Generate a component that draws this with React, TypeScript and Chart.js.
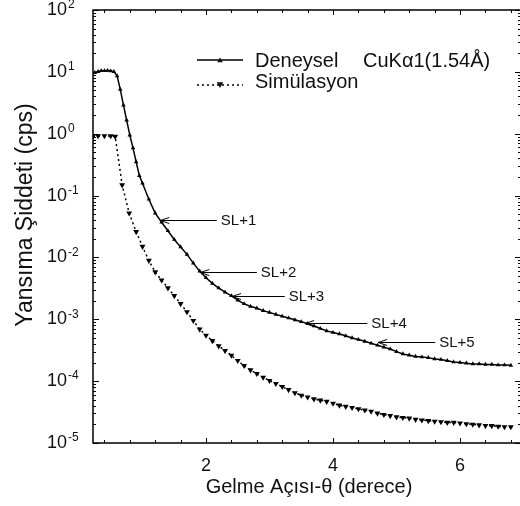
import React, { useEffect, useRef } from 'react';
import { Chart, registerables } from 'chart.js';

Chart.register(...registerables);

// ---- data ----
const thetaExp = [
  0.25, 0.3, 0.35, 0.4, 0.45, 0.5, 0.55, 0.6, 0.65, 0.7, 0.75, 0.8, 0.85, 0.9, 0.95, 1.0,
  1.1, 1.2, 1.3, 1.4, 1.5, 1.6, 1.7, 1.8, 1.9, 2.0, 2.1, 2.2, 2.3, 2.4, 2.5, 2.6, 2.7, 2.8, 2.9,
  3.0, 3.1, 3.2, 3.3, 3.4, 3.5, 3.6, 3.7, 3.8, 3.9, 4.0, 4.1, 4.2, 4.3, 4.4, 4.5, 4.6, 4.7, 4.8,
  4.9, 5.0, 5.1, 5.2, 5.3, 5.4, 5.5, 5.6, 5.7, 5.8, 5.9, 6.0, 6.1, 6.2, 6.3, 6.4, 6.5, 6.6, 6.7, 6.8,
];
const intensityExp = [
  9.7, 10.1, 10.4, 10.4, 10.5, 10.3, 10.1, 8.6, 5.2, 2.9, 1.66, 0.95, 0.59, 0.35, 0.21, 0.158,
  0.087, 0.052, 0.037, 0.027, 0.0195, 0.0148, 0.0112, 0.0081, 0.006, 0.0047, 0.0038, 0.0032, 0.00275,
  0.0024, 0.00204, 0.00178, 0.00162, 0.00151, 0.00138, 0.00129, 0.0012, 0.00112, 0.00105, 0.00098,
  0.00091, 0.00085, 0.00078, 0.00071, 0.00065, 0.00061, 0.00058, 0.00054, 0.0005, 0.00047, 0.00044,
  0.00041, 0.00038, 0.000355, 0.00033, 0.0003, 0.000275, 0.000263, 0.000251, 0.000245, 0.00024,
  0.000229, 0.000224, 0.000214, 0.000204, 0.0002, 0.000195, 0.00019, 0.00019, 0.000186, 0.000186,
  0.000182, 0.000182, 0.00018,
];
const thetaSim = [
  0.22, 0.3, 0.4, 0.5, 0.57, 0.68, 0.79, 0.9, 1.0, 1.1, 1.2, 1.3, 1.4, 1.5, 1.6, 1.7, 1.8, 1.9,
  2.0, 2.1, 2.2, 2.3, 2.4, 2.5, 2.6, 2.7, 2.8, 2.9, 3.0, 3.1, 3.2, 3.3, 3.4, 3.5, 3.6, 3.7, 3.8,
  3.9, 4.0, 4.1, 4.2, 4.3, 4.4, 4.5, 4.6, 4.7, 4.8, 4.9, 5.0, 5.1, 5.2, 5.3, 5.4, 5.5, 5.6, 5.7,
  5.8, 5.9, 6.0, 6.1, 6.2, 6.3, 6.4, 6.5, 6.6, 6.7, 6.8,
];
const intensitySim = [
  0.9, 0.92, 0.92, 0.92, 0.9, 0.148, 0.052, 0.026, 0.015, 0.0089, 0.0058, 0.0043, 0.0032, 0.0024,
  0.00178, 0.00132, 0.00095, 0.00069, 0.00055, 0.00045, 0.00037, 0.00031, 0.00026, 0.000214,
  0.000178, 0.000151, 0.000132, 0.000115, 0.000102, 0.0000912, 0.0000813, 0.0000724, 0.0000646,
  0.0000589, 0.000055, 0.0000513, 0.000049, 0.0000468, 0.0000437, 0.0000407, 0.0000389, 0.0000372,
  0.0000355, 0.0000339, 0.0000324, 0.0000302, 0.0000288, 0.0000275, 0.0000263, 0.0000257,
  0.0000251, 0.000024, 0.0000234, 0.0000229, 0.0000224, 0.0000219, 0.0000214, 0.0000214,
  0.0000209, 0.0000204, 0.00002, 0.0000195, 0.000019, 0.000019, 0.0000186, 0.0000182, 0.0000182,
];
const seriesLabels = ['Deneysel', 'Simülasyon'];
const legendNote = 'CuKα1(1.54Å)';
const decades = [-5, -4, -3, -2, -1, 0, 1, 2];
const xTickValues = [0.4, 0.8, 1.2, 1.6, 2, 2.4, 2.8, 3.2, 3.6, 4, 4.4, 4.8, 5.2, 5.6, 6, 6.4, 6.8];
const xLabelValues = [2, 4, 6];
const xTitle = 'Gelme Açısı-θ (derece)';
const yTitle = 'Yansıma Şiddeti (cps)';
const slLabels = ['SL+1', 'SL+2', 'SL+3', 'SL+4', 'SL+5'];
const slTheta = [1.28, 1.91, 2.41, 3.56, 4.71];
const slTailTheta = [2.17, 2.8, 3.24, 4.54, 5.61];
const slIntensity = [0.0403, 0.0058, 0.00238, 0.00087, 0.00043];

const FONT = '"Liberation Sans", Arial, sans-serif';
const INK = '#111';

const overlay = {
  id: 'overlay',
  afterDraw(chart: any) {
    const { ctx, chartArea: a, scales } = chart;
    const xs = scales.x;
    const ys = scales.y;
    ctx.save();
    ctx.strokeStyle = '#000';
    ctx.fillStyle = INK;

    // frame
    ctx.lineWidth = 1.5;
    ctx.strokeRect(a.left, a.top, a.right - a.left, a.bottom - a.top);

    ctx.lineWidth = 1;
    const hline = (x1: number, x2: number, y: number) => {
      ctx.beginPath();
      ctx.moveTo(x1, y);
      ctx.lineTo(x2, y);
      ctx.stroke();
    };
    const vline = (x: number, y1: number, y2: number) => {
      ctx.beginPath();
      ctx.moveTo(x, y1);
      ctx.lineTo(x, y2);
      ctx.stroke();
    };
    // y ticks (inward)
    decades.forEach((d) => {
      const py = Math.round(ys.getPixelForValue(Math.pow(10, d))) + 0.5;
      hline(a.left, a.left + 6, py);
      hline(a.right, a.right - 6, py);
      if (d < decades[decades.length - 1]) {
        for (let m = 2; m <= 9; m++) {
          const pm = Math.round(ys.getPixelForValue(m * Math.pow(10, d))) + 0.5;
          hline(a.left, a.left + 3, pm);
          hline(a.right, a.right - 3, pm);
        }
      }
    });
    // x ticks (inward)
    xTickValues.forEach((v) => {
      const px = Math.round(xs.getPixelForValue(v)) + 0.5;
      const len = xLabelValues.includes(v) ? 5 : 3;
      vline(px, a.bottom, a.bottom - len);
      vline(px, a.top, a.top + len);
    });

    // y tick labels 10^n
    decades.forEach((d) => {
      const py = ys.getPixelForValue(Math.pow(10, d));
      ctx.font = `18px ${FONT}`;
      ctx.textAlign = 'left';
      ctx.textBaseline = 'middle';
      ctx.fillText('10', 47, py);
      const w = ctx.measureText('10').width;
      ctx.font = `12px ${FONT}`;
      ctx.fillText(String(d), 47 + w + 1, py - 5);
    });
    // x tick labels
    ctx.font = `18px ${FONT}`;
    ctx.textAlign = 'center';
    ctx.textBaseline = 'middle';
    xLabelValues.forEach((v) => {
      ctx.fillText(String(v), xs.getPixelForValue(v), 466);
    });

    // axis titles
    ctx.font = `20px ${FONT}`;
    ctx.textAlign = 'center';
    ctx.textBaseline = 'alphabetic';
    ctx.fillText(xTitle, 309, 493);
    ctx.save();
    ctx.translate(32, 215);
    ctx.rotate(-Math.PI / 2);
    ctx.font = `23px ${FONT}`;
    ctx.fillText(yTitle, 0, 0);
    ctx.restore();

    // legend
    const tri = (x: number, y: number, s: number, down: boolean) => {
      ctx.beginPath();
      if (down) {
        ctx.moveTo(x - s, y - s * 0.8);
        ctx.lineTo(x + s, y - s * 0.8);
        ctx.lineTo(x, y + s * 0.9);
      } else {
        ctx.moveTo(x - s, y + s * 0.8);
        ctx.lineTo(x + s, y + s * 0.8);
        ctx.lineTo(x, y - s * 0.9);
      }
      ctx.closePath();
      ctx.fill();
    };
    ctx.lineWidth = 1.5;
    hline(197, 243, 60);
    tri(220, 60, 2.8, false);
    ctx.setLineDash([2, 3]);
    hline(197, 243, 85);
    ctx.setLineDash([]);
    tri(220, 85, 3.3, true);
    ctx.font = `20px ${FONT}`;
    ctx.textAlign = 'left';
    ctx.textBaseline = 'alphabetic';
    ctx.fillText(seriesLabels[0], 255, 67);
    ctx.fillText(legendNote, 363, 67);
    ctx.fillText(seriesLabels[1], 255, 88);

    // SL annotations
    ctx.lineWidth = 1;
    ctx.font = `15px ${FONT}`;
    ctx.textBaseline = 'middle';
    slLabels.forEach((lab, i) => {
      const tip = xs.getPixelForValue(slTheta[i]);
      const tail = xs.getPixelForValue(slTailTheta[i]);
      const py = Math.round(ys.getPixelForValue(slIntensity[i])) + 0.5;
      hline(tip, tail, py);
      ctx.beginPath();
      ctx.moveTo(tip + 9, py - 3);
      ctx.lineTo(tip, py);
      ctx.lineTo(tip + 9, py + 3);
      ctx.stroke();
      ctx.fillText(lab, tail + 4, py);
    });

    ctx.restore();
  },
};

export default function App() {
  const ref = useRef<HTMLCanvasElement>(null);
  useEffect(() => {
    if (!ref.current) return;
    const chart = new Chart(ref.current, {
      type: 'scatter',
      data: {
        datasets: [
          {
            label: seriesLabels[0],
            data: thetaExp.map((t, i) => ({ x: t, y: intensityExp[i] })),
            showLine: true,
            borderColor: '#000',
            borderWidth: 1.5,
            pointStyle: 'triangle',
            pointRadius: 2.6,
            pointBackgroundColor: '#000',
            pointBorderColor: '#000',
            pointBorderWidth: 0,
          },
          {
            label: seriesLabels[1],
            data: thetaSim.map((t, i) => ({ x: t, y: intensitySim[i] })),
            showLine: true,
            borderColor: '#000',
            borderWidth: 1.5,
            borderDash: [2, 3],
            pointStyle: 'triangle',
            pointRotation: 180,
            pointRadius: 3.4,
            pointBackgroundColor: '#000',
            pointBorderColor: '#000',
            pointBorderWidth: 0,
          },
        ],
      },
      options: {
        responsive: false,
        animation: false,
        devicePixelRatio: 1,
        layout: { padding: { left: 93, right: 19, top: 10, bottom: 63 } },
        scales: {
          x: { type: 'linear', min: 0.2205, max: 6.96, display: false },
          y: { type: 'logarithmic', min: 1e-5, max: 100, display: false },
        },
        plugins: { legend: { display: false }, tooltip: { enabled: false } },
      },
      plugins: [overlay],
    } as any);
    return () => chart.destroy();
  }, []);
  return (
    <div
      style={{
        position: 'fixed',
        left: 0,
        top: 0,
        width: 520,
        height: 506,
        overflow: 'hidden',
        background: '#fff',
      }}
    >
      <canvas ref={ref} width={540} height={506} style={{ width: 540, height: 506, display: 'block' }} />
    </div>
  );
}
